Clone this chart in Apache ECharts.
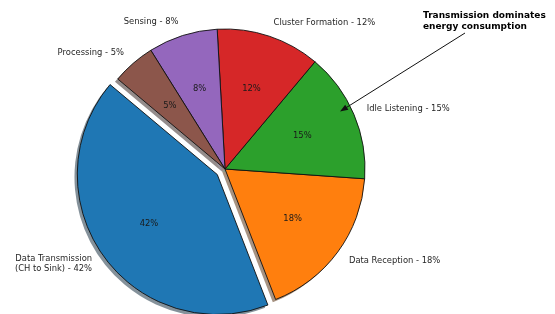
<!DOCTYPE html>
<html><head><meta charset="utf-8">
<script src="https://cdn.jsdelivr.net/npm/echarts@6/dist/echarts.min.js"></script>
<style>html,body{margin:0;padding:0;background:#fff}#c{width:555px;height:314px}</style>
</head><body><div id="c"></div>
<script>
// ---- data ----
const categories = ['Data Transmission\n(CH to Sink)', 'Data Reception', 'Idle Listening', 'Cluster Formation', 'Sensing', 'Processing'];
const values = [42, 18, 15, 12, 8, 5];
const colors = ['#1f77b4', '#ff7f0e', '#2ca02c', '#d62728', '#9467bd', '#8c564b'];
const exploded = [true, false, false, false, false, false];
const annotationLines = ['Transmission dominates', 'energy consumption'];

// ---- layout ----
const CX = 225, CY = 169, R = 140;
const EXPLODE = 9.5;
const START = 140;
const FONT = 'DejaVu Sans';

function shadowColor(hex) {
  const n = parseInt(hex.slice(1), 16);
  const r = Math.round(((n >> 16) & 255) * 0.3), g = Math.round(((n >> 8) & 255) * 0.3), b = Math.round((n & 255) * 0.3);
  return 'rgba(' + r + ',' + g + ',' + b + ',0.5)';
}
function mkData(colorFn) {
  return categories.map((c, i) => ({ name: c, value: values[i], selected: exploded[i], itemStyle: colorFn(i) }));
}
const pctText = p => Math.round(p.percent) + '%';

const chart = echarts.init(document.getElementById('c'), null, { renderer: 'canvas' });
const common = {
  type: 'pie', startAngle: START, clockwise: false, selectedMode: 'multiple',
  selectedOffset: EXPLODE, avoidLabelOverlap: false, minAngle: 0, animation: false,
  emphasis: { disabled: true }, silent: true, labelLayout: { hideOverlap: false }
};
chart.setOption({
  backgroundColor: '#fff',
  animation: false,
  series: [
    Object.assign({}, common, {
      name: 'shadow', z: 1,
      center: [CX - 2.8, CY + 2.8], radius: R,
      label: { show: false }, labelLine: { show: false },
      data: mkData(i => ({ color: shadowColor(colors[i]), borderWidth: 0 })),
      select: { itemStyle: { borderWidth: 0 } }
    }),
    Object.assign({}, common, {
      name: 'main', z: 2,
      center: [CX, CY], radius: R,
      itemStyle: { borderColor: '#111', borderWidth: 0.9 },
      select: { itemStyle: { borderColor: '#111', borderWidth: 0.9 } },
      label: {
        show: true, position: 'outside', color: '#262626', fontFamily: FONT, fontSize: 8.4,
        lineHeight: 10, distanceToLabelLine: 0,
        formatter: p => p.name + ' - ' + pctText(p)
      },
      labelLine: { show: true, length: R * 0.1, length2: 0, lineStyle: { opacity: 0, width: 0 } },
      data: mkData(i => ({ color: colors[i] }))
    }),
    Object.assign({}, common, {
      name: 'pct', z: 3,
      center: [CX, CY], radius: (R * 0.6 - 3) * 2,
      itemStyle: { color: 'rgba(0,0,0,0)', borderWidth: 0 },
      select: { itemStyle: { color: 'rgba(0,0,0,0)', borderWidth: 0 } },
      label: { show: true, position: 'inside', color: '#1a1a1a', fontFamily: FONT, fontSize: 8.4, textBorderWidth: 0, formatter: pctText },
      labelLine: { show: false },
      data: mkData(i => ({ color: 'rgba(0,0,0,0)' }))
    })
  ],
  graphic: [
    { type: 'text', left: 423, top: 10.5, z: 10, style: { text: annotationLines.join('\n'), font: 'bold 9px "' + FONT + '"', fill: '#000', lineHeight: 11 } },
    { type: 'line', z: 10, shape: { x1: 465, y1: 33, x2: 344, y2: 109 }, style: { stroke: '#111', lineWidth: 1 } },
    { type: 'polygon', z: 10, shape: { points: (function () {
        const tx = 340, ty = 111.5, ax = 465 - tx, ay = 33 - ty, L = Math.hypot(ax, ay);
        const ux = ax / L, uy = ay / L, len = 8, w = 3;
        return [[tx, ty], [tx + ux * len - uy * w, ty + uy * len + ux * w], [tx + ux * len + uy * w, ty + uy * len - ux * w]];
      })() }, style: { fill: '#111' } }
  ]
});
</script>
</body></html>
